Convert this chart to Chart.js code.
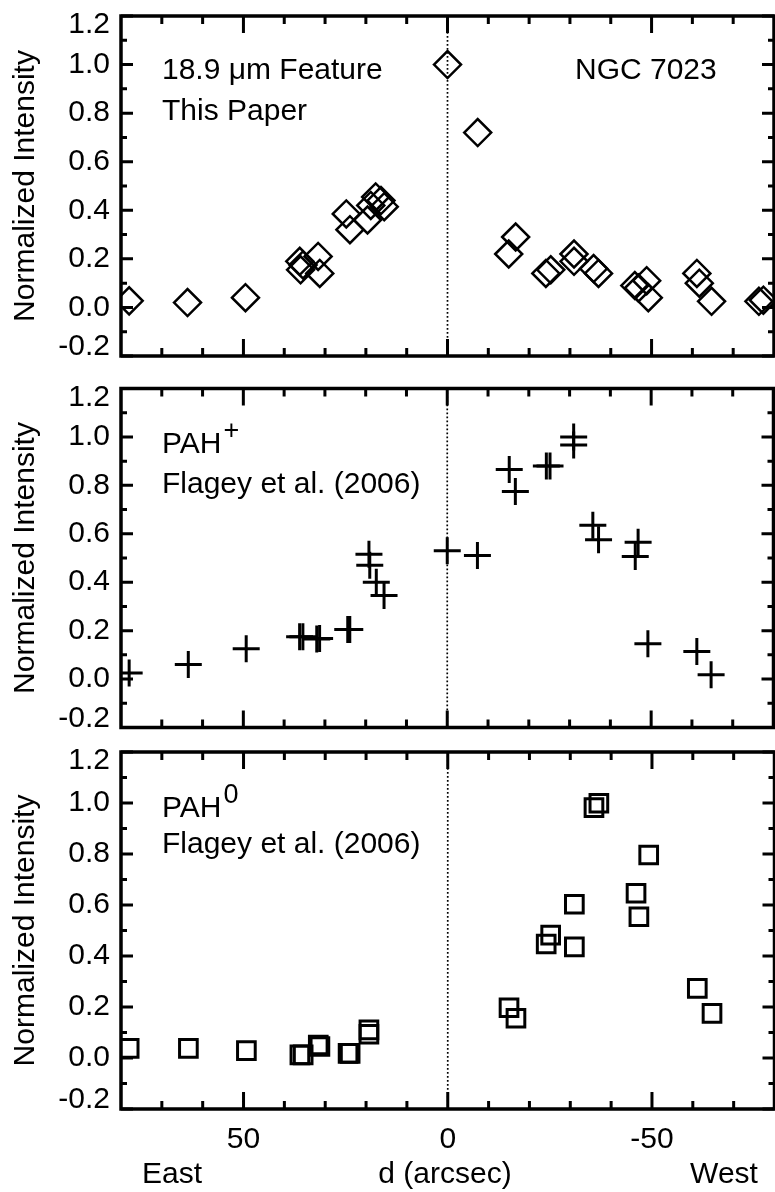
<!DOCTYPE html>
<html>
<head>
<meta charset="utf-8">
<title>NGC 7023 normalized intensity</title>
<script src="https://cdn.jsdelivr.net/npm/chart.js@4.4.1/dist/chart.umd.min.js"></script>
<style>
  html, body { margin: 0; padding: 0; background: #fff; overflow: hidden; }
  #wrap { position: relative; width: 790px; height: 1192px; }
  canvas { position: absolute; left: 0; }
</style>
</head>
<body>
<div id="wrap">
  <canvas id="panel1" width="790" height="372" style="top:0px"></canvas>
  <canvas id="panel2" width="790" height="372" style="top:372px"></canvas>
  <canvas id="panel3" width="790" height="457" style="top:735px"></canvas>
</div>
<script>
// distance d (arcsec, East positive) and normalized intensity for each panel
const featureD = [78.0, 63.7, 49.5, 36.2, 35.4, 36.0, 31.7, 31.3, 24.8, 23.9, 19.6, 18.8, 17.6, 16.3, 15.5, 0.0,
    -7.4, -15.0, -16.7, -24.1, -25.3, -31.0, -31.0, -35.8, -37.0, -45.9, -46.8, -48.8, -49.2, -61.1, -61.7, -64.7, -76.3, -77.4];
const featureI = [0.027, 0.02, 0.04, 0.19, 0.175, 0.155, 0.21, 0.14, 0.385, 0.32, 0.36, 0.42, 0.455, 0.44, 0.415, 1.0,
    0.72, 0.22, 0.29, 0.14, 0.155, 0.22, 0.19, 0.16, 0.14, 0.09, 0.08, 0.11, 0.04, 0.14, 0.10, 0.025, 0.025, 0.03];

const pahPlusD = [78.0, 63.5, 49.3, 36.2, 35.4, 32.0, 31.3, 24.4, 23.9, 19.2, 19.0, 17.4, 15.5, 0.0,
    -7.4, -15.2, -16.7, -24.3, -25.2, -31.0, -31.0, -35.7, -37.1, -46.8, -46.1, -49.2, -61.2, -64.7];
const pahPlusI = [0.025, 0.06, 0.125, 0.175, 0.175, 0.165, 0.168, 0.205, 0.205, 0.515, 0.47, 0.40, 0.345, 0.53,
    0.51, 0.865, 0.775, 0.88, 0.88, 1.0, 0.967, 0.635, 0.575, 0.565, 0.506, 0.146, 0.114, 0.018];

const pahZeroD = [78.0, 63.5, 49.3, 36.2, 35.4, 31.7, 31.3, 24.4, 23.9, 19.3, 19.3,
    -15.0, -16.7, -24.1, -25.2, -31.0, -31.0, -35.8, -37.0, -46.1, -46.8, -49.2, -61.1, -64.7];
const pahZeroI = [0.038, 0.038, 0.029, 0.012, 0.012, 0.051, 0.045, 0.018, 0.018, 0.11, 0.093,
    0.197, 0.156, 0.447, 0.482, 0.603, 0.436, 0.982, 0.999, 0.646, 0.554, 0.796, 0.273, 0.175];

// axis ticks
const xMajorTicks = [50, 0, -50];
const xMinorTicks = [70, 60, 40, 30, 20, 10, -10, -20, -30, -40, -60, -70];
const yMajorTicks = [-0.2, 0.0, 0.2, 0.4, 0.6, 0.8, 1.0, 1.2];
const yMinorTicks = [-0.1, 0.1, 0.3, 0.5, 0.7, 0.9, 1.1];
const xSideLabels = ['East', 'd (arcsec)', 'West'];

const FONT = '"Liberation Sans", Arial, Helvetica, sans-serif';

function toPoints(ds, vals) {
    return ds.map((d, i) => ({ x: d, y: vals[i] }));
}

// frame, inward ticks, dotted zero line and all the texts
const panelFrame = {
    id: 'panelFrame',
    beforeDatasetsDraw(chart) {
        const { ctx, chartArea: a } = chart;
        const x0 = chart.scales.x.getPixelForValue(0);
        ctx.save();
        ctx.strokeStyle = '#000';
        ctx.lineWidth = 1.7;
        ctx.setLineDash([1.7, 2.3]);
        ctx.beginPath();
        ctx.moveTo(x0, a.top);
        ctx.lineTo(x0, a.bottom);
        ctx.stroke();
        ctx.restore();
    },
    afterDatasetsDraw(chart, args, opts) {
        const { ctx, chartArea: a } = chart;
        const x = chart.scales.x, y = chart.scales.y;
        ctx.save();
        ctx.strokeStyle = '#000';
        ctx.fillStyle = '#000';

        ctx.lineWidth = 3;
        ctx.beginPath();
        const tickX = (v, len) => {
            const px = x.getPixelForValue(v);
            ctx.moveTo(px, a.top); ctx.lineTo(px, a.top + len);
            ctx.moveTo(px, a.bottom); ctx.lineTo(px, a.bottom - len);
        };
        const tickY = (v, len) => {
            const py = y.getPixelForValue(v);
            ctx.moveTo(a.left, py); ctx.lineTo(a.left + len, py);
            ctx.moveTo(a.right, py); ctx.lineTo(a.right - len, py);
        };
        xMajorTicks.forEach(v => tickX(v, 17));
        xMinorTicks.forEach(v => tickX(v, 8));
        yMajorTicks.forEach(v => tickY(v, 12));
        yMinorTicks.forEach(v => tickY(v, 6));
        ctx.stroke();

        ctx.lineWidth = 3.5;
        ctx.strokeRect(a.left, a.top, a.right - a.left, a.bottom - a.top);

        // y tick labels, the end ones pulled inside the frame
        ctx.font = '30px ' + FONT;
        ctx.textAlign = 'right';
        ctx.textBaseline = 'middle';
        yMajorTicks.forEach((v, i) => {
            let py = y.getPixelForValue(v);
            if (i === 0) py -= 9;
            if (i === yMajorTicks.length - 1) py += 9;
            ctx.fillText(v.toFixed(1), a.left - 11, py);
        });

        // y title
        ctx.save();
        ctx.translate(34, (a.top + a.bottom) / 2);
        ctx.rotate(-Math.PI / 2);
        ctx.textAlign = 'center';
        ctx.textBaseline = 'alphabetic';
        ctx.fillText('Normalized Intensity', 0, 0);
        ctx.restore();

        // notes inside the panel
        ctx.textAlign = 'left';
        ctx.textBaseline = 'alphabetic';
        (opts.notes || []).forEach(n => {
            ctx.font = '30px ' + FONT;
            const bx = a.left + n.dx, by = a.top + n.dy;
            ctx.fillText(n.text, bx, by);
            if (n.sup) {
                const w = ctx.measureText(n.text).width;
                ctx.font = '27px ' + FONT;
                ctx.fillText(n.sup, bx + w + 2, by - 14);
            }
        });

        // x tick labels and the axis words under the last panel
        if (opts.bottom) {
            ctx.font = '30px ' + FONT;
            ctx.textAlign = 'center';
            xMajorTicks.forEach(v => {
                ctx.fillText(String(v), x.getPixelForValue(v), a.bottom + 39);
            });
            ctx.fillText(xSideLabels[0], 172, a.bottom + 74);
            ctx.fillText(xSideLabels[1], 445, a.bottom + 74);
            ctx.fillText(xSideLabels[2], 724, a.bottom + 74);
        }
        ctx.restore();
    }
};

function makePanel(id, points, style, radius, lineW, pad, notes, bottom) {
    const ctx = document.getElementById(id).getContext('2d');
    return new Chart(ctx, {
        type: 'scatter',
        data: {
            datasets: [{
                data: points,
                pointStyle: style,
                pointRadius: radius,
                pointBorderWidth: lineW,
                pointBorderColor: '#000',
                pointBackgroundColor: 'rgba(0,0,0,0)',
                clip: 0
            }]
        },
        options: {
            responsive: false,
            animation: false,
            events: [],
            layout: { padding: { top: pad[0], right: 11, bottom: pad[1], left: 0 } },
            plugins: {
                legend: { display: false },
                tooltip: { enabled: false },
                panelFrame: { notes: notes, bottom: bottom }
            },
            scales: {
                x: {
                    type: 'linear', min: -80, max: 80, reverse: true,
                    display: false
                },
                y: {
                    type: 'linear', min: -0.2, max: 1.2,
                    grid: { display: false },
                    border: { display: false },
                    ticks: { display: false },
                    afterFit: s => { s.width = 121; }
                }
            }
        },
        plugins: [panelFrame]
    });
}

makePanel('panel1', toPoints(featureD, featureI), 'rectRot', 13.5, 2.5, [5, 10], [
    { text: '18.9 \u03bcm Feature', dx: 41, dy: 63 },
    { text: 'This Paper', dx: 41, dy: 104 },
    { text: 'NGC 7023', dx: 454, dy: 63 }
], false);

makePanel('panel2', toPoints(pahPlusD, pahPlusI), 'cross', 13.5, 3, [6, 9], [
    { text: 'PAH', sup: '+', dx: 41, dy: 64 },
    { text: 'Flagey et al. (2006)', dx: 41, dy: 104 }
], false);

makePanel('panel3', toPoints(pahZeroD, pahZeroI), 'rect', 12.5, 3, [17, 83], [
    { text: 'PAH', sup: '0', dx: 41, dy: 65 },
    { text: 'Flagey et al. (2006)', dx: 41, dy: 101 }
], true);
</script>
</body>
</html>
